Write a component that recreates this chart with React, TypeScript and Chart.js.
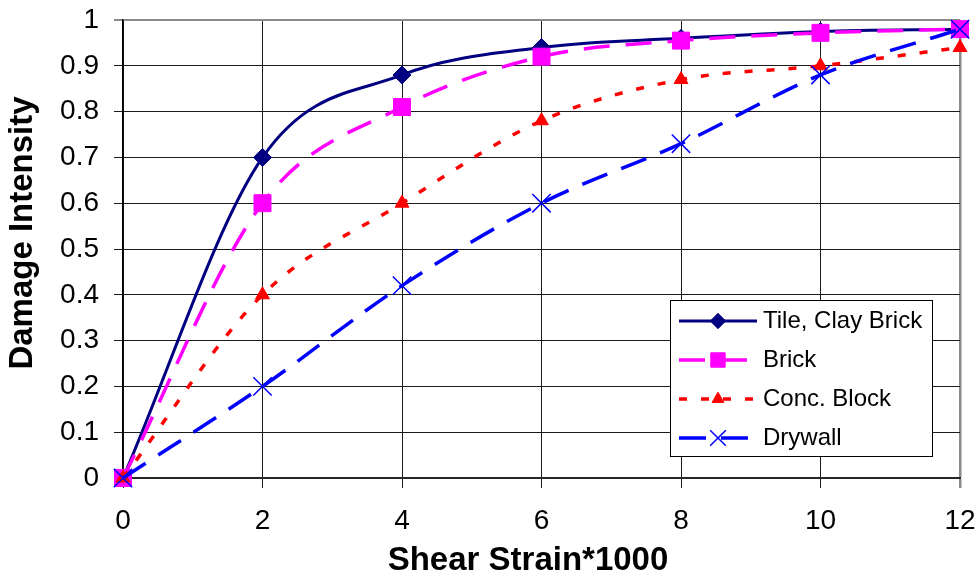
import React, { useEffect, useRef } from 'react';
import { Chart, registerables } from 'chart.js';
import { drawPoint } from 'chart.js/helpers';

Chart.register(...registerables);

// ---- data ----
const xValues = [0, 2, 4, 6, 8, 10, 12];
const tileClayBrick = [0, 0.70, 0.88, 0.94, 0.96, 0.975, 0.98];
const brick = [0, 0.60, 0.81, 0.92, 0.955, 0.972, 0.98];
const concBlock = [0, 0.40, 0.60, 0.78, 0.87, 0.90, 0.94];
const drywall = [0, 0.20, 0.42, 0.60, 0.73, 0.88, 0.98];
const seriesLabels = ['Tile, Clay Brick', 'Brick', 'Conc. Block', 'Drywall'];
const xTickLabels = ['0', '2', '4', '6', '8', '10', '12'];
const yTickLabels = ['0', '0.1', '0.2', '0.3', '0.4', '0.5', '0.6', '0.7', '0.8', '0.9', '1'];
const xAxisTitle = 'Shear Strain*1000';
const yAxisTitle = 'Damage Intensity';

const FONT = '"Liberation Sans", Arial, sans-serif';

const toPoints = (ys: number[]) => xValues.map((x, i) => ({ x, y: ys[i] }));

const axisTitles = {
  id: 'axisTitles',
  afterDraw(chart: any) {
    const ctx: CanvasRenderingContext2D = chart.ctx;
    ctx.save();
    ctx.fillStyle = '#000000';
    ctx.font = `bold 33px ${FONT}`;
    ctx.textAlign = 'center';
    ctx.textBaseline = 'middle';
    ctx.fillText(xAxisTitle, 528, 561);
    ctx.translate(23, 233);
    ctx.rotate(-Math.PI / 2);
    ctx.fillText(yAxisTitle, 0, 0);
    ctx.restore();
  },
};

const boxLegend = {
  id: 'boxLegend',
  afterDraw(chart: any) {
    const ctx: CanvasRenderingContext2D = chart.ctx;
    const left = 670.5, top = 300.5, w = 262, h = 156;
    ctx.save();
    ctx.fillStyle = '#ffffff';
    ctx.fillRect(left, top, w, h);
    ctx.strokeStyle = '#000000';
    ctx.lineWidth = 1;
    ctx.setLineDash([]);
    ctx.strokeRect(left, top, w, h);
    chart.data.datasets.forEach((ds: any, i: number) => {
      const y = 321 + i * 39;
      ctx.save();
      ctx.setLineDash(ds.borderDash || []);
      ctx.lineDashOffset = 0;
      ctx.strokeStyle = ds.borderColor;
      ctx.lineWidth = ds.borderWidth;
      ctx.lineCap = 'butt';
      ctx.beginPath();
      ctx.moveTo(679, y);
      ctx.lineTo(757, y);
      ctx.stroke();
      ctx.setLineDash([]);
      ctx.fillStyle = ds.pointBackgroundColor;
      ctx.strokeStyle = ds.pointBorderColor;
      ctx.lineWidth = ds.pointBorderWidth;
      drawPoint(ctx, {
        pointStyle: ds.pointStyle,
        rotation: 0,
        radius: ds.pointRadius * 0.85,
        borderWidth: ds.pointBorderWidth,
      } as any, 718, y);
      ctx.restore();
      ctx.fillStyle = '#000000';
      ctx.font = `24px ${FONT}`;
      ctx.textAlign = 'left';
      ctx.textBaseline = 'middle';
      ctx.fillText(ds.label, 763, y);
    });
    ctx.restore();
  },
};

const INTERP = 'monotone';

export default function App() {
  const canvasRef = useRef<HTMLCanvasElement | null>(null);

  useEffect(() => {
    const canvas = canvasRef.current;
    if (!canvas) return;
    const chart = new Chart(canvas, {
      type: 'line',
      data: {
        datasets: [
          {
            label: seriesLabels[0],
            data: toPoints(tileClayBrick),
            borderColor: '#000080',
            backgroundColor: '#000080',
            borderWidth: 3,
            pointStyle: 'rectRot',
            pointRadius: 9,
            pointBackgroundColor: '#000080',
            pointBorderColor: '#000080',
            pointBorderWidth: 1,
            cubicInterpolationMode: INTERP,
            order: 4,
            clip: false,
          },
          {
            label: seriesLabels[1],
            data: toPoints(brick),
            borderColor: '#FF00FF',
            backgroundColor: '#FF00FF',
            borderWidth: 3.5,
            borderDash: [26, 16],
            pointStyle: 'rect',
            pointRadius: 12,
            pointBackgroundColor: '#FF00FF',
            pointBorderColor: '#FF00FF',
            pointBorderWidth: 1,
            cubicInterpolationMode: INTERP,
            order: 3,
            clip: false,
          },
          {
            label: seriesLabels[2],
            data: toPoints(concBlock),
            borderColor: '#FF0000',
            backgroundColor: '#FF0000',
            borderWidth: 3.5,
            borderDash: [8, 14],
            pointStyle: 'triangle',
            pointRadius: 8,
            pointBackgroundColor: '#FF0000',
            pointBorderColor: '#FF0000',
            pointBorderWidth: 1,
            cubicInterpolationMode: INTERP,
            order: 2,
            clip: false,
          },
          {
            label: seriesLabels[3],
            data: toPoints(drywall),
            borderColor: '#0000FF',
            backgroundColor: '#0000FF',
            borderWidth: 3.5,
            borderDash: [27, 15],
            pointStyle: 'crossRot',
            pointRadius: 13,
            pointBackgroundColor: '#0000FF',
            pointBorderColor: '#0000FF',
            pointBorderWidth: 1.5,
            cubicInterpolationMode: INTERP,
            order: 1,
            clip: false,
          },
        ],
      },
      options: {
        animation: false,
        responsive: false,
        devicePixelRatio: 1,
        layout: { padding: { left: 0, top: 20, right: 19, bottom: 0 } },
        plugins: {
          legend: { display: false },
          tooltip: { enabled: false },
        },
        scales: {
          x: {
            type: 'linear',
            min: 0,
            max: 12,
            afterFit: (s: any) => {
              s.height = 102;
              s.paddingLeft = 0;
              s.paddingRight = 0;
            },
            ticks: {
              stepSize: 2,
              autoSkip: false,
              maxRotation: 0,
              padding: 16,
              color: '#000000',
              font: { family: FONT, size: 28 },
              callback: (_v: any, i: number) => xTickLabels[i],
            },
            grid: {
              color: (c: any) => (c.tick && c.tick.value === 12 ? '#8a8a8a' : '#1a1a1a'),
              lineWidth: (c: any) => (c.tick && c.tick.value === 12 ? 2.5 : 1),
              tickLength: 10,
            },
            border: { display: true, color: '#262626', width: 2 },
            title: { display: false, text: xAxisTitle },
          },
          y: {
            type: 'linear',
            min: 0,
            max: 1,
            afterFit: (s: any) => {
              s.width = 123;
              s.paddingTop = 0;
              s.paddingBottom = 0;
            },
            ticks: {
              stepSize: 0.1,
              autoSkip: false,
              padding: 15,
              color: '#000000',
              font: { family: FONT, size: 28 },
              callback: (_v: any, i: number) => yTickLabels[i],
            },
            grid: {
              color: (c: any) => (c.tick && Math.abs(c.tick.value - 1) < 1e-9 ? '#8a8a8a' : '#1a1a1a'),
              lineWidth: (c: any) => (c.tick && Math.abs(c.tick.value - 1) < 1e-9 ? 2 : 1),
              tickLength: 9,
            },
            border: { display: true, color: '#000000', width: 1.5 },
            title: { display: false, text: yAxisTitle },
          },
        },
      },
      plugins: [boxLegend, axisTitles],
    });
    return () => chart.destroy();
  }, []);

  return (
    <div style={{ position: 'fixed', left: 0, top: 0, width: 979, height: 580, background: '#ffffff' }}>
      <canvas ref={canvasRef} width={979} height={580} style={{ display: 'block', width: 979, height: 580 }} />
    </div>
  );
}
